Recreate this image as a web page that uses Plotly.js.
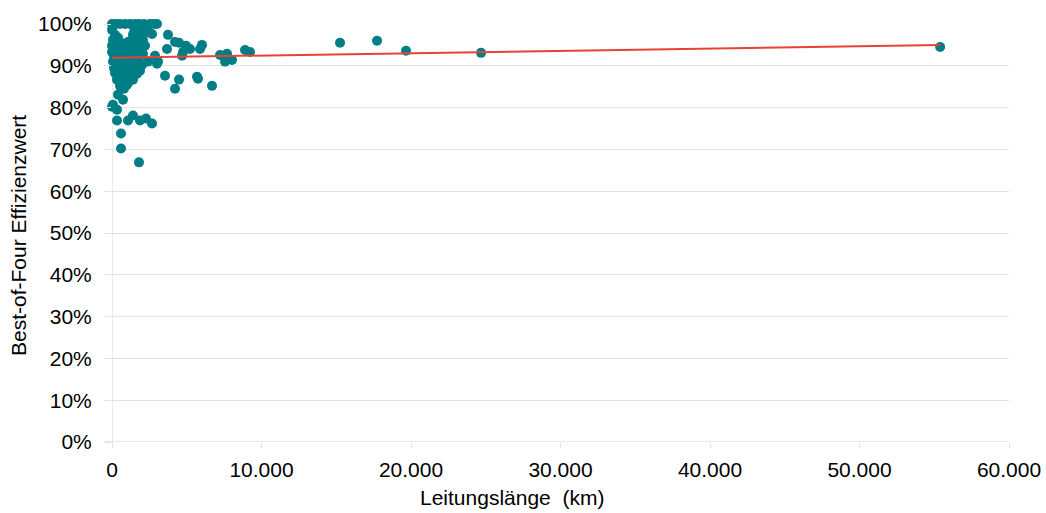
<!DOCTYPE html>
<html>
<head>
<meta charset="utf-8">
<script src="https://cdn.plot.ly/plotly-3.0.1.min.js"></script>
<style>html,body{margin:0;padding:0;background:#fff;}#chart{width:1046px;height:513px;}</style>
</head>
<body>
<div id="chart"></div>
<script>
// Leitungslänge (km) and Best-of-Four Effizienzwert
const lengthKm = [
  55393, 24686, 19669, 17729, 15253, 8898, 9232, 7225, 7694, 7560, 8028, 6690,
  5687, 5753, 4482, 4215, 3546, 6021, 5887, 5218, 4750, 4683, 4951, 4482, 4215,
  3746, 3680, 3077, 2877, 2676, 2408, 3011, 2676, 1806, 602, 602, 335, 1070,
  1405, 1873, 2275, 401, 736, 67, 335, 0,
  0, 268, 535, 870, 1204, 1539, 1806, 2141, 2542, 2810, 3011, 1405, 2074,
  0, 201, 67, 401, 0, 268, 535, 803, 1070, 1338, 1606, 1873, 2074, 1472, 1739, 2208, 2408,
  0, 268, 535, 870, 1137, 1405, 1673, 1940, 2208, 134, 468, 736, 1004, 1271, 1539, 1806, 2074,
  67, 335, 602, 937, 1204, 1472, 1739, 2007,
  134, 401, 669, 937, 1271, 1539, 1873,
  201, 468, 736, 1070, 1405, 1673,
  335, 602, 870, 1137, 1405,
  535, 1004, 803
];
const efficiency = [
  0.945, 0.931, 0.936, 0.960, 0.955, 0.938, 0.933, 0.926, 0.929, 0.910, 0.914, 0.852,
  0.874, 0.869, 0.867, 0.845, 0.876, 0.950, 0.940, 0.940, 0.933, 0.924, 0.948, 0.955, 0.957,
  0.974, 0.940, 0.910, 0.924, 0.976, 0.910, 0.905, 0.762, 0.669, 0.738, 0.702, 0.769, 0.769,
  0.781, 0.769, 0.774, 0.831, 0.819, 0.807, 0.795, 0.802,
  1.000, 1.000, 1.000, 1.000, 1.000, 1.000, 1.000, 1.000, 1.000, 1.000, 1.000, 0.974, 0.962,
  0.986, 0.974, 0.962, 0.967, 0.948, 0.952, 0.957, 0.948, 0.957, 0.962, 0.967, 0.971, 0.990, 0.981, 0.990, 0.990, 0.981,
  0.933, 0.938, 0.940, 0.933, 0.943, 0.938, 0.948, 0.943, 0.948, 0.924, 0.921, 0.926, 0.919, 0.926, 0.929, 0.921, 0.929,
  0.910, 0.912, 0.907, 0.905, 0.912, 0.905, 0.910, 0.902,
  0.895, 0.898, 0.890, 0.895, 0.890, 0.893, 0.888,
  0.883, 0.883, 0.876, 0.879, 0.874, 0.881,
  0.867, 0.864, 0.869, 0.862, 0.867,
  0.852, 0.855, 0.845
];
// Linear trend line end points
const trendX = [0, 55393];
const trendY = [0.919, 0.950];

const xTicks = [0, 10000, 20000, 30000, 40000, 50000, 60000];
const xTitle = 'Leitungslänge\u00A0 (km)';
const yTitle = 'Best-of-Four Effizienzwert';

const tickFont = {family: 'Liberation Sans, Arial, sans-serif', size: 21, color: '#000'};
const grid = '#DEE4E0';

Plotly.newPlot('chart', [
  {
    x: lengthKm, y: efficiency, type: 'scatter', mode: 'markers',
    marker: {size: 10, color: '#007E86'}, cliponaxis: false
  },
  {
    x: trendX, y: trendY, type: 'scatter', mode: 'lines',
    line: {color: '#E84235', width: 2}, cliponaxis: false
  }
], {
  width: 1046, height: 513,
  margin: {l: 112, r: 37, t: 24, b: 71, pad: 0},
  showlegend: false,
  separators: ',.',
  paper_bgcolor: '#fff', plot_bgcolor: '#fff',
  font: tickFont,
  xaxis: {
    range: [0, 60000], tickvals: xTicks, tickformat: ',d',
    showgrid: false, zeroline: false,
    showline: false, ticks: 'outside', ticklen: 5, tickcolor: grid, tickwidth: 1,
    tickfont: tickFont, ticklabelstandoff: 4
  },
  yaxis: {
    range: [0, 1], dtick: 0.1, tickformat: '.0%',
    showgrid: true, gridcolor: grid, gridwidth: 1, zeroline: false,
    showline: false, ticks: 'outside', ticklen: 7, tickcolor: grid,
    tickfont: tickFont, ticklabelstandoff: 8
  },
  annotations: [
    {text: xTitle, xref: 'paper', yref: 'paper', x: (512 - 112) / 897, y: -(497 - 442) / 418,
     xanchor: 'center', yanchor: 'middle', showarrow: false, font: tickFont},
    {text: yTitle, xref: 'paper', yref: 'paper', x: -(112 - 18) / 897, y: (442 - 236) / 418,
     xanchor: 'center', yanchor: 'middle', showarrow: false, textangle: -90, font: tickFont}
  ],
  shapes: [
    {type: 'line', xref: 'x', yref: 'paper', x0: 0, x1: 0, y0: -0.015, y1: 1, line: {color: grid, width: 1.5}, layer: 'below'},
    {type: 'line', xref: 'paper', yref: 'y', x0: -0.008, x1: 1, y0: 0, y1: 0, line: {color: grid, width: 1.5}, layer: 'below'}
  ]
}, {displayModeBar: false, staticPlot: true});
</script>
</body>
</html>
